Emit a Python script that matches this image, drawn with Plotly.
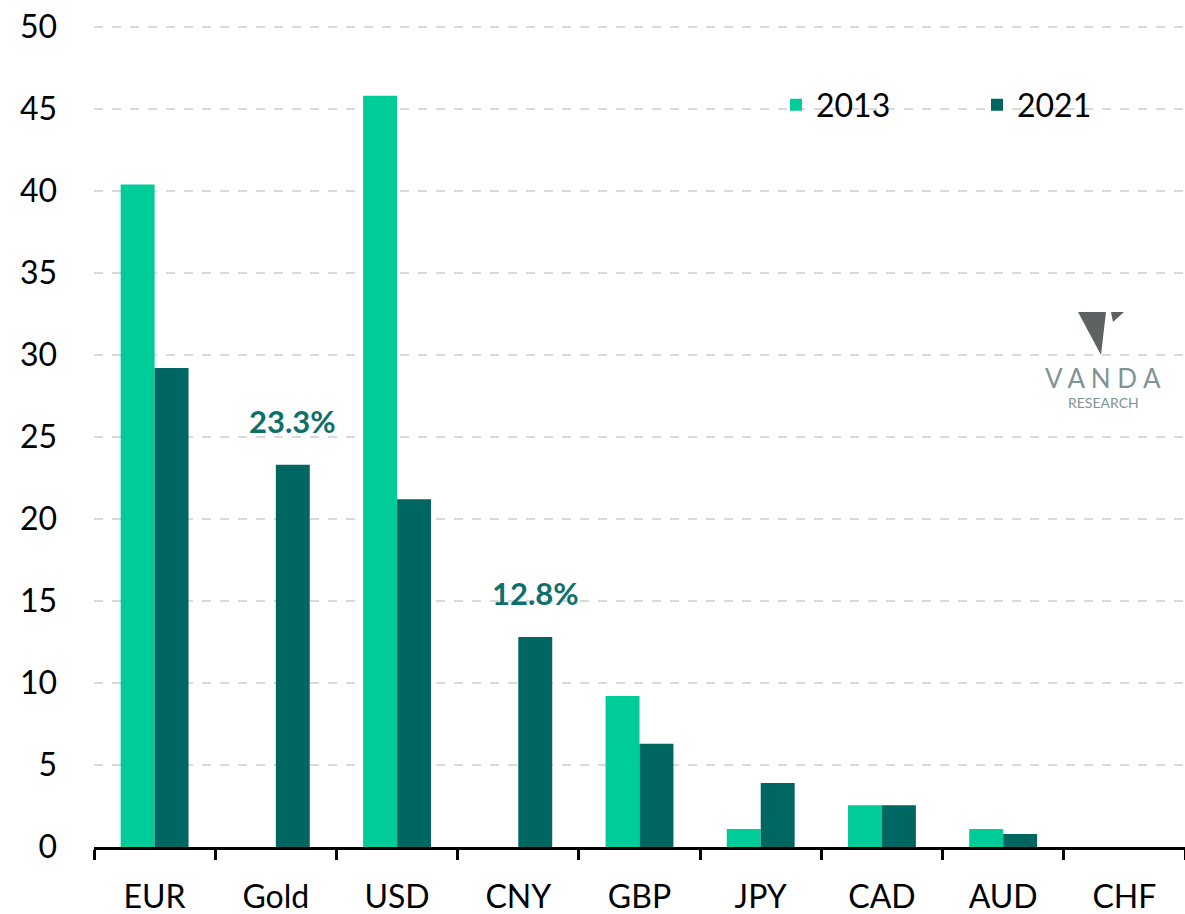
import plotly.graph_objects as go

categories = ["EUR", "Gold", "USD", "CNY", "GBP", "JPY", "CAD", "AUD", "CHF"]
series_2013 = [40.4, 0, 45.8, 0, 9.2, 1.1, 2.55, 1.1, 0]
series_2021 = [29.2, 23.3, 21.2, 12.8, 6.3, 3.9, 2.55, 0.8, 0]
highlight = {"Gold": 23.3, "CNY": 12.8}
y_ticks = [0, 5, 10, 15, 20, 25, 30, 35, 40, 45, 50]

C13 = "#00CC99"
C21 = "#006661"
FONT = "Lato"

W, H = 1185, 914
L, R, T, B = 94, 0, 25, 67

def px(x):
    return (x - L) / (W - L - R)

def py(y):
    return (H - B - y) / (H - T - B)

fig = go.Figure()
fig.add_trace(go.Bar(name="2013", x=categories, y=series_2013, marker_color=C13,
                     marker_line_width=0))
fig.add_trace(go.Bar(name="2021", x=categories, y=series_2021, marker_color=C21,
                     marker_line_width=0))

for cat, v in highlight.items():
    fig.add_annotation(x=cat, y=v, text=f"<b>{v}%</b>", showarrow=False,
                       xshift=17, yshift=44, font=dict(family=FONT, size=31, color="#0E706B"))

# logo
fig.add_shape(type="path", xref="paper", yref="paper",
              path=f"M {px(1078)} {py(312)} L {px(1106)} {py(312)} L {px(1101)} {py(355)} Z",
              fillcolor="#5E6262", line_width=0, layer="above")
fig.add_shape(type="path", xref="paper", yref="paper",
              path=f"M {px(1111)} {py(312)} L {px(1124)} {py(312)} L {px(1113)} {py(322)} Z",
              fillcolor="#5E6262", line_width=0, layer="above")
fig.add_annotation(xref="paper", yref="paper", x=px(1103), y=py(378), text="V A N D A",
                   xanchor="center", yanchor="middle",
                   showarrow=False, font=dict(family=FONT, size=26, color="#7F9494"))
fig.add_annotation(xref="paper", yref="paper", x=px(1103), y=py(402), text="RESEARCH",
                   xanchor="center", yanchor="middle",
                   showarrow=False, font=dict(family=FONT, size=14, color="#7F9494"))

fig.update_layout(
    width=W, height=H,
    margin=dict(l=L, r=R, t=T, b=B, pad=0),
    plot_bgcolor="white", paper_bgcolor="white",
    barmode="group", bargap=0.44, bargroupgap=0,
    font=dict(family=FONT, size=32, color="#000000"),
    legend=dict(orientation="h", x=px(776), y=py(105), yanchor="middle", xanchor="left",
                font=dict(family=FONT, size=32), entrywidth=156, entrywidthmode="pixels",
                bgcolor="rgba(0,0,0,0)"),
    xaxis=dict(showline=True, linecolor="black", linewidth=3, ticks="outside",
               tickson="boundaries", ticklen=10, tickwidth=3, tickcolor="black",
               showgrid=False, ticklabelstandoff=20, automargin=False),
    yaxis=dict(range=[0, 50.12], tickvals=y_ticks, showline=False, ticks="",
               showgrid=True, gridcolor="#D9D9D9", gridwidth=2, griddash="dash",
               zeroline=False, ticklabelstandoff=36, automargin=False),
)

fig.write_html("out.html", config={"displayModeBar": False},
               post_script="document.body.style.margin='0';")
